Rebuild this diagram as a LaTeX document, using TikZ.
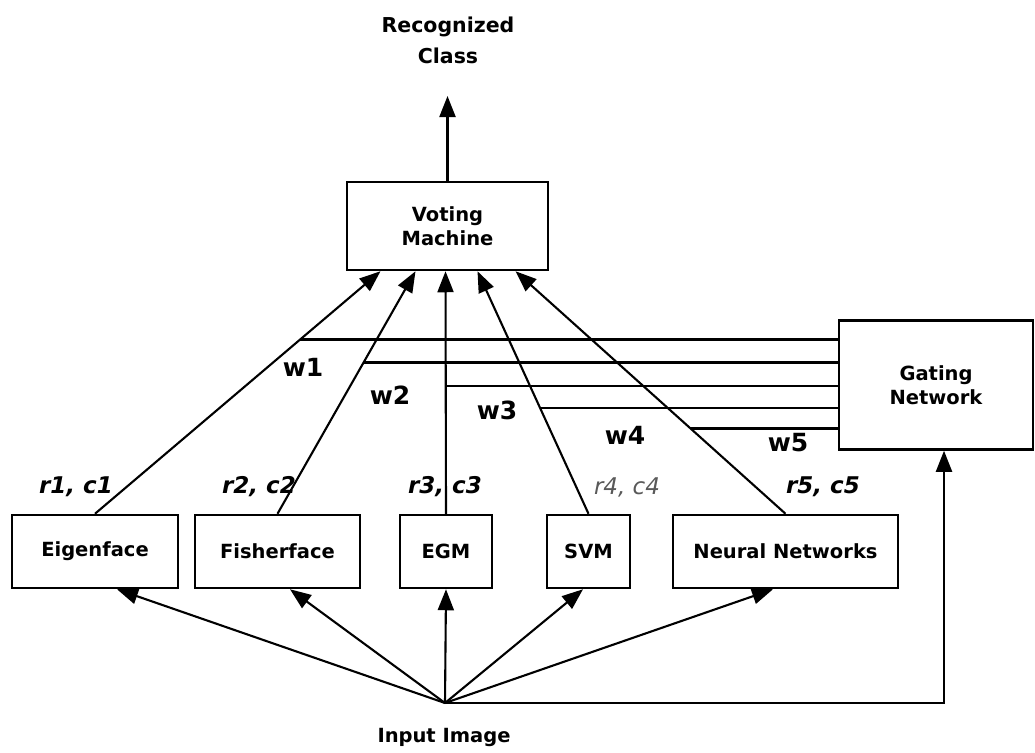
\documentclass[tikz,border=0pt]{standalone}
\usepackage{fontspec}
\setmainfont{DejaVu Sans}
\usetikzlibrary{arrows.meta,calc}

\begin{document}
\begin{tikzpicture}[x=1pt,y=-1pt,
  box/.style={draw, line width=2.5pt, inner sep=0pt, align=center,
    font=\bfseries\fontsize{19.5}{24}\selectfont},
  conn/.style={line width=2.1pt, -{Triangle[length=21pt,width=16pt]}},
  wire/.style={line width=2.4pt},
  wlab/.style={font=\bfseries\fontsize{25}{28}\selectfont},
  rlab/.style={font=\bfseries\itshape\fontsize{23}{26}\selectfont},
  lab/.style={align=center, font=\bfseries\fontsize{20.5}{31}\selectfont}]
\useasboundingbox (0,0) rectangle (1035,752);

% combiner and gating boxes
\node[box, minimum width=201pt, minimum height=88pt] (vm) at (447.5,226) {Voting\\Machine};
\node[box, minimum width=194pt, minimum height=129pt] (gate) at (936,385) {Gating\\Network};

% individual classifiers
\node[box, minimum width=166pt, minimum height=73pt] (eig) at (95,551.5) {Eigenface};
\node[box, minimum width=165pt, minimum height=73pt] (fish) at (277.5,551.5) {Fisherface};
\node[box, minimum width=92pt, minimum height=73pt] (egm) at (446,551.5) {EGM};
\node[box, minimum width=83pt, minimum height=73pt] (svm) at (588.5,551.5) {SVM};
\node[box, minimum width=225pt, minimum height=73pt] (nn) at (785.5,551.5) {Neural Networks};

% output
\node[lab] (rc) at (448,40) {Recognized\\Class};
\coordinate (out) at (447.5,96);
\draw[conn] (vm.north) -- (out);

% classifier outputs into the voting machine
\coordinate (v1) at ($(vm.south)+(-67,0)$);
\coordinate (v2) at ($(vm.south)+(-32,0)$);
\coordinate (v3) at ($(vm.south)+(-2,0)$);
\coordinate (v4) at ($(vm.south)+(30,0)$);
\coordinate (v5) at ($(vm.south)+(68,0)$);
\draw[conn] (eig.north) -- (v1);
\draw[conn] (fish.north) -- (v2);
\draw[conn] (egm.north) -- (v3);
\draw[conn] (svm.north) -- (v4);
\draw[conn] (nn.north) -- (v5);

% weights from the gating network
\coordinate (p1) at ($(eig.north)!0.718!(v1)$);
\coordinate (p2) at ($(fish.north)!0.624!(v2)$);
\coordinate (p3) at ($(egm.north)!0.527!(v3)$);
\coordinate (p4) at ($(svm.north)!0.437!(v4)$);
\coordinate (p5) at ($(nn.north)!0.351!(v5)$);
\foreach \p in {p1,p2,p3,p4,p5}
  \draw[wire] (\p) -- (\p -| gate.west);

\node[wlab] (w1) at (303,367) {w1};
\node[wlab] (w2) at (390,395) {w2};
\node[wlab] (w3) at (497,410) {w3};
\node[wlab] (w4) at (625,435) {w4};
\node[wlab] (w5) at (788,443) {w5};

% rank / confidence labels
\node[rlab] (rc1) at (76,487) {r1, c1};
\node[rlab] (rc2) at (259,487) {r2, c2};
\node[rlab] (rc3) at (445,487) {r3, c3};
\node[rlab, font=\itshape\fontsize{23}{26}\selectfont, text=black!65] (rc4) at (627,487) {r4, c4};
\node[rlab] (rc5) at (823,487) {r5, c5};

% input image fan-out
\node[lab, font=\bfseries\fontsize{19.5}{24}\selectfont] (inp) at (444,737) {Input Image};
\coordinate (src) at (445,703);
\draw[conn] (src) -- ($(eig.south)+(22,0)$);
\draw[conn] (src) -- ($(fish.south)+(12.5,0)$);
\draw[conn] (src) -- (egm.south);
\draw[conn] (src) -- ($(svm.south)+(-5.5,0)$);
\draw[conn] (src) -- ($(nn.south)+(-12.5,0)$);
\draw[conn] (src) -| ($(gate.south)+(8,0)$);
\end{tikzpicture}
\end{document}
